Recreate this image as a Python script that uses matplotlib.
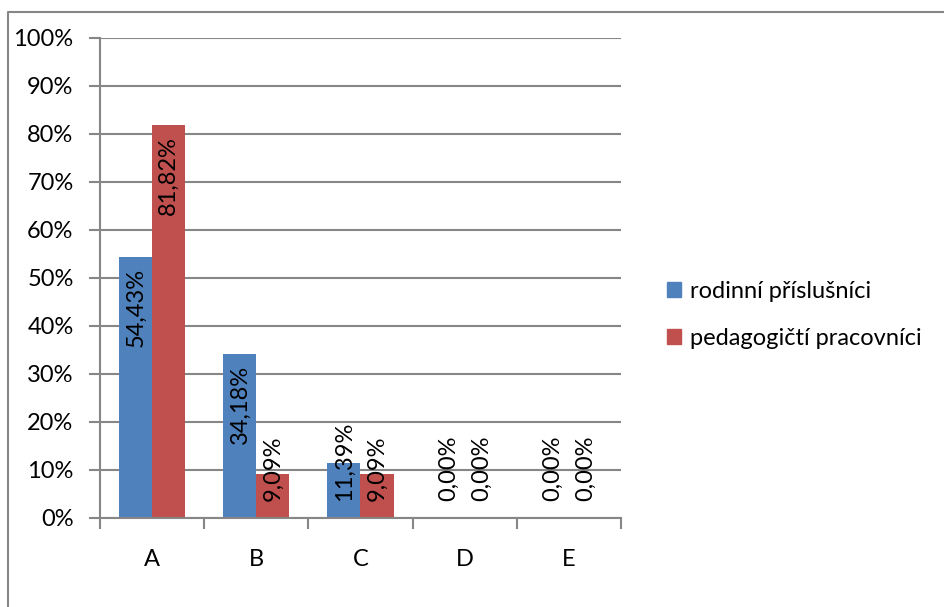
import matplotlib.pyplot as plt
from matplotlib.patches import Rectangle
from matplotlib.lines import Line2D

# survey answers A-E, share of respondents in each group
categories = ['A', 'B', 'C', 'D', 'E']
rodinni = [54.43, 34.18, 11.39, 0.00, 0.00]
pedagogicti = [81.82, 9.09, 9.09, 0.00, 0.00]
series_names = ['rodinní příslušníci', 'pedagogičtí pracovníci']
yticks = [0, 10, 20, 30, 40, 50, 60, 70, 80, 90, 100]

blue = '#4F81BD'
red = '#C0504D'
grey = '#868686'

plt.rcParams['font.family'] = ['Lato', 'DejaVu Sans']
fs = 17

W, H = 945, 607
fig = plt.figure(figsize=(W / 100, H / 100), dpi=100)
ax = fig.add_axes([100 / W, 1 - 518 / H, 521 / W, 480 / H])

bw = 0.317
x = list(range(len(categories)))
ax.bar([i - bw / 2 for i in x], rodinni, bw, color=blue, zorder=3)
ax.bar([i + bw / 2 for i in x], pedagogicti, bw, color=red, zorder=3)

ax.set_xlim(-0.5, len(categories) - 0.5)
ax.set_ylim(0, 100)
ax.set_yticks(yticks)
ax.set_yticklabels([f'{t}%' for t in yticks], fontsize=fs)
ax.set_xticks(x)
ax.set_xticklabels(categories, fontsize=fs)
ax.tick_params(axis='x', length=0, pad=22)
ax.tick_params(axis='y', length=8, width=1.5, color=grey, pad=11)
# category separators below the x axis
ax.set_xticks([i - 0.5 for i in range(len(categories) + 1)], minor=True)
ax.tick_params(axis='x', which='minor', length=8, width=1.5, color=grey)
ax.grid(axis='y', color=grey, linewidth=1.5, zorder=1)
for s in ['top', 'right']:
    ax.spines[s].set_visible(False)
for s in ['left', 'bottom']:
    ax.spines[s].set_color(grey)
    ax.spines[s].set_linewidth(1.5)
ax.spines['bottom'].set_zorder(4)

# value labels: inside the top of the bar, pushed up off the base if too long
labels = []
for vals, off in [(rodinni, -bw / 2), (pedagogicti, bw / 2)]:
    for i, v in enumerate(vals):
        t = ax.annotate(f'{v:.2f}%'.replace('.', ','), (i + off, v),
                        xytext=(0, -8), textcoords='offset points',
                        rotation=90, ha='center', va='top', fontsize=fs,
                        zorder=5)
        labels.append((t, i + off))
fig.canvas.draw()
r = fig.canvas.get_renderer()
base = ax.transData.transform((0, 0))[1]
for t, xp in labels:
    bb = t.get_window_extent(r)
    if bb.y0 < base + 18:
        t.xy = (xp, 0)
        t.set_va('bottom')
        t.xyann = (0, 12)

# legend
handles = [Rectangle((0, 0), 1, 1, color=blue), Rectangle((0, 0), 1, 1, color=red)]
fig.legend(handles, series_names, loc='center left',
           bbox_to_anchor=(646 / W, 1 - 315 / H), frameon=False, fontsize=fs,
           handlelength=0.6, handleheight=0.6, handletextpad=0.35,
           labelspacing=1.1)

# chart border
fig.add_artist(Line2D([8 / W, 8 / W, 1], [0, 1 - 12 / H, 1 - 12 / H],
                      color=grey, linewidth=1.5, transform=fig.transFigure))

fig.savefig('out.png', dpi=100)
